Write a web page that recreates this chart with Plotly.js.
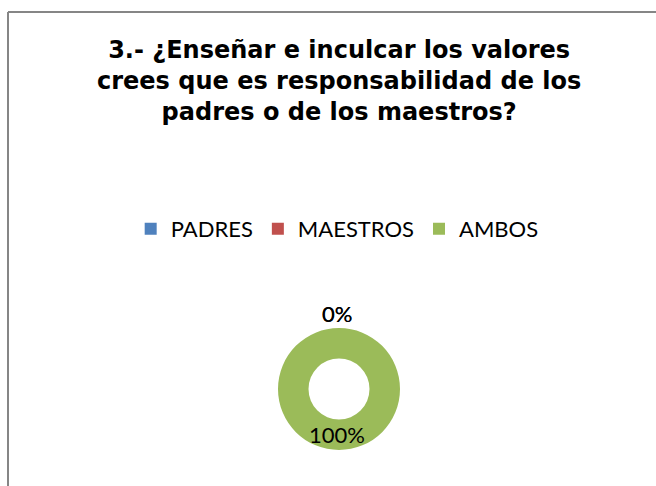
<!DOCTYPE html>
<html>
<head>
<meta charset="utf-8">
<script src="https://cdn.plot.ly/plotly-3.0.1.min.js"></script>
<style>
html,body{margin:0;padding:0;background:#fff;}
#chart{width:656px;height:486px;}
</style>
</head>
<body>
<div id="chart"></div>
<script>
const categories = ["PADRES", "MAESTROS", "AMBOS"];
const values = [0, 0, 100];
const colors = ["#4F81BD", "#C0504D", "#9BBB59"];
const titleLines = ["3.- ¿Enseñar e inculcar los valores", "crees que es responsabilidad de los", "padres o de los maestros?"];

const W = 656, H = 486;
const HOLE = 0.5;
const dom = {x: [278/W, 400/W], y: [36/H, 158/H]};
const total = values.reduce((a, b) => a + b, 0);

// Percentage labels computed from the data: zero slices just outside the ring,
// non-zero slices in the middle of the ring, at each slice's mid angle.
const annotations = [];
let cum = 0;
const cx = (dom.x[0] + dom.x[1]) / 2 * W;
const cy = (dom.y[0] + dom.y[1]) / 2 * H;
const R = (dom.x[1] - dom.x[0]) * W / 2;
values.forEach((v, i) => {
  const mid = (cum + v / 2) / total * 2 * Math.PI;
  cum += v;
  const r = v === 0 ? R + 15 : R * (1 + HOLE) / 2;
  annotations.push({
    xref: "paper", yref: "paper",
    x: (cx - 2 + r * Math.sin(mid)) / W, y: (cy + r * Math.cos(mid)) / H,
    xanchor: "center", yanchor: "middle",
    text: Math.round(v / total * 100) + "%",
    showarrow: false,
    font: {family: "Lato, sans-serif", size: 22, color: "#000"}
  });
});

const trace = {
  type: "pie",
  labels: categories,
  values: values,
  marker: {colors: colors, line: {width: 0}},
  hole: HOLE,
  sort: false,
  direction: "clockwise",
  rotation: 0,
  textinfo: "none",
  showlegend: true,
  hoverinfo: "none",
  domain: dom
};

const layout = {
  width: W, height: H,
  margin: {l: 0, r: 0, t: 0, b: 0},
  paper_bgcolor: "#fff",
  title: {
    text: titleLines.join("<br>"),
    font: {family: "DejaVu Sans, sans-serif", size: 24, color: "#000", weight: "bold"},
    x: 0.517, xanchor: "center", y: 1 - 58/H, yanchor: "top"
  },
  legend: {
    orientation: "h", x: 0.514, xanchor: "center", y: 1 - 208/H, yanchor: "top",
    font: {family: "Lato, sans-serif", size: 22, color: "#000"},
    traceorder: "normal"
  },
  annotations: annotations,
  shapes: [
    {type: "line", xref: "paper", yref: "paper", x0: 8/W, x1: 1, y0: 1 - 12/H, y1: 1 - 12/H, line: {color: "#868686", width: 2}},
    {type: "line", xref: "paper", yref: "paper", x0: 8/W, x1: 8/W, y0: 1 - 12/H, y1: 0, line: {color: "#868686", width: 2}}
  ]
};

Plotly.newPlot("chart", [trace], layout, {displayModeBar: false, staticPlot: true});
</script>
</body>
</html>
